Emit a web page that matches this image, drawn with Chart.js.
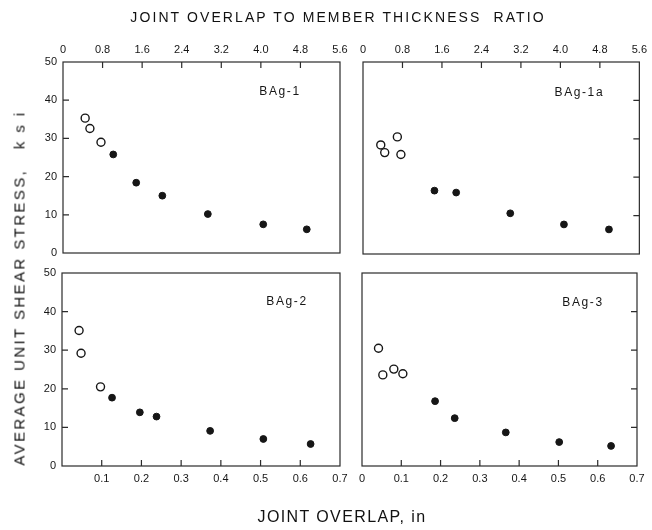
<!DOCTYPE html>
<html>
<head>
<meta charset="utf-8">
<script src="https://cdn.jsdelivr.net/npm/chart.js@4/dist/chart.umd.min.js"></script>
<style>
  html, body { margin: 0; padding: 0; background: #fff; }
  #wrap { position: relative; width: 652px; height: 530px; overflow: hidden; background: #fff; }
  #wrap canvas { position: absolute; left: 0; top: 0; }
  .txt { position: absolute; font-family: "Liberation Sans", Arial, sans-serif; color: #111; white-space: pre; }
  #topTitle { left: 338px; top: 17px; transform: translate(-50%, -50%); font-size: 14px; letter-spacing: 2.1px; }
  #bottomTitle { left: 342px; top: 517px; transform: translate(-50%, -50%); font-size: 16px; letter-spacing: 1.4px; }
  #yTitle { left: 19px; top: 288px; transform: translate(-50%, -50%) rotate(-90deg); font-size: 15px; letter-spacing: 2.4px; }
</style>
</head>
<body>
<div id="wrap">
  <canvas id="c1" width="652" height="530"></canvas>
  <canvas id="c2" width="652" height="530"></canvas>
  <canvas id="c3" width="652" height="530"></canvas>
  <canvas id="c4" width="652" height="530"></canvas>
  <div class="txt" id="topTitle">JOINT OVERLAP TO MEMBER THICKNESS  RATIO</div>
  <div class="txt" id="bottomTitle">JOINT OVERLAP, in</div>
  <div class="txt" id="yTitle">AVERAGE UNIT SHEAR STRESS,   k s i</div>
</div>
<script>
// Axis ticks
const stressTicks = [0, 10, 20, 30, 40, 50];
const stressLabels = ['0', '10', '20', '30', '40', '50'];
const overlapTicks = [0, 0.1, 0.2, 0.3, 0.4, 0.5, 0.6, 0.7];
const overlapLabels = ['0', '0.1', '0.2', '0.3', '0.4', '0.5', '0.6', '0.7'];
const ratioTicks = [0, 0.8, 1.6, 2.4, 3.2, 4.0, 4.8, 5.6];
const ratioLabels = ['0', '0.8', '1.6', '2.4', '3.2', '4.0', '4.8', '5.6'];

// Panel names
const panelNames = ['BAg-1', 'BAg-1a', 'BAg-2', 'BAg-3'];

// BAg-1: overlap (in) and shear stress (ksi); open = first group, filled = second group
const bag1OpenOverlap = [0.056, 0.068, 0.096];
const bag1OpenStress  = [35.3, 32.6, 29.0];
const bag1Overlap     = [0.127, 0.185, 0.251, 0.366, 0.506, 0.616];
const bag1Stress      = [25.8, 18.4, 15.0, 10.2, 7.5, 6.2];

// BAg-1a
const bag1aOpenOverlap = [0.045, 0.055, 0.087, 0.096];
const bag1aOpenStress  = [28.4, 26.4, 30.5, 25.9];
const bag1aOverlap     = [0.181, 0.236, 0.373, 0.509, 0.623];
const bag1aStress      = [16.5, 16.0, 10.6, 7.7, 6.4];

// BAg-2
const bag2OpenOverlap = [0.043, 0.048, 0.097];
const bag2OpenStress  = [35.1, 29.2, 20.5];
const bag2Overlap     = [0.126, 0.196, 0.238, 0.373, 0.507, 0.626];
const bag2Stress      = [17.7, 13.9, 12.8, 9.1, 7.0, 5.7];

// BAg-3
const bag3OpenOverlap = [0.042, 0.053, 0.081, 0.104];
const bag3OpenStress  = [30.5, 23.6, 25.1, 23.9];
const bag3Overlap     = [0.186, 0.236, 0.366, 0.502, 0.634];
const bag3Stress      = [16.8, 12.4, 8.7, 6.2, 5.2];

const INK = '#161616';
const FONT = '"Liberation Sans", Arial, sans-serif';

function pts(xs, ys) { return xs.map((x, i) => ({ x: x, y: ys[i] })); }

function openSet(xs, ys) {
  return { data: pts(xs, ys), pointStyle: 'circle', pointRadius: 4, pointHoverRadius: 4,
           pointBackgroundColor: '#fff', pointBorderColor: INK, pointBorderWidth: 1.4, showLine: false };
}
function solidSet(xs, ys) {
  return { data: pts(xs, ys), pointStyle: 'circle', pointRadius: 3.4, pointHoverRadius: 3.4,
           pointBackgroundColor: INK, pointBorderColor: INK, pointBorderWidth: 1, showLine: false };
}

// Frame, inward tick marks and panel name
const panelDecor = {
  id: 'panelDecor',
  afterDatasetsDraw(chart, args, o) {
    const ctx = chart.ctx, a = chart.chartArea;
    const sx = chart.scales.x, sy = chart.scales.y, st = chart.scales.x2;
    const len = 6;
    ctx.save();
    ctx.strokeStyle = '#2b2b2b';
    ctx.lineWidth = 1.2;
    ctx.strokeRect(a.left, a.top, a.right - a.left, a.bottom - a.top);
    ctx.beginPath();
    const inner = stressTicks.slice(1, -1);
    if (o.left) inner.forEach(v => { const p = sy.getPixelForValue(v); ctx.moveTo(a.left, p); ctx.lineTo(a.left + len, p); });
    if (o.right) inner.forEach(v => { const p = sy.getPixelForValue(v); ctx.moveTo(a.right, p); ctx.lineTo(a.right - len, p); });
    if (o.top) ratioTicks.slice(1, -1).forEach(v => { const p = st.getPixelForValue(v); ctx.moveTo(p, a.top); ctx.lineTo(p, a.top + len); });
    if (o.bottom) overlapTicks.slice(1, -1).forEach(v => { const p = sx.getPixelForValue(v); ctx.moveTo(p, a.bottom); ctx.lineTo(p, a.bottom - len); });
    ctx.stroke();
    ctx.fillStyle = INK;
    ctx.font = '12px ' + FONT;
    ctx.textAlign = 'center';
    ctx.textBaseline = 'middle';
    if ('letterSpacing' in ctx) ctx.letterSpacing = '1.6px';
    ctx.fillText(o.label, a.right - o.labelDx, a.top + o.labelDy);
    ctx.restore();
  }
};

const tickFont = { family: FONT, size: 11 };

function makePanel(id, datasets, cfg) {
  const scales = {
    x: {
      type: 'linear', position: 'bottom', min: 0, max: 0.7,
      display: cfg.showBottom,
      grid: { display: false, drawTicks: false }, border: { display: false },
      afterBuildTicks: s => { s.ticks = overlapTicks.filter(v => cfg.bottomZero || v > 0).map(v => ({ value: v })); },
      afterFit: s => { s.height = cfg.bottomH; },
      ticks: { font: tickFont, color: INK, padding: 6, autoSkip: false, maxRotation: 0,
               callback: v => overlapLabels[overlapTicks.indexOf(Math.round(v * 10) / 10)] }
    },
    x2: {
      type: 'linear', position: 'top', min: 0, max: 5.6,
      display: cfg.showTop,
      grid: { display: false, drawTicks: false }, border: { display: false },
      afterBuildTicks: s => { s.ticks = ratioTicks.map(v => ({ value: v })); },
      afterFit: s => { s.height = cfg.topH; },
      ticks: { font: tickFont, color: INK, padding: 5, autoSkip: false, maxRotation: 0,
               callback: (v, i) => ratioLabels[i] }
    },
    y: {
      type: 'linear', position: 'left', min: 0, max: 50,
      display: cfg.showLeft,
      grid: { display: false, drawTicks: false }, border: { display: false },
      afterBuildTicks: s => { s.ticks = stressTicks.map(v => ({ value: v })); },
      afterFit: s => { s.width = cfg.leftW; },
      ticks: { font: tickFont, color: INK, padding: 6, autoSkip: false,
               callback: (v, i) => stressLabels[i] }
    }
  };
  return new Chart(document.getElementById(id), {
    type: 'scatter',
    data: { datasets: datasets },
    options: {
      responsive: false, animation: false, events: [],
      layout: { padding: cfg.padding },
      plugins: { legend: { display: false }, tooltip: { enabled: false }, panelDecor: cfg.decor },
      scales: scales
    },
    plugins: [panelDecor]
  });
}

// Top-left: BAg-1
makePanel('c1', [openSet(bag1OpenOverlap, bag1OpenStress), solidSet(bag1Overlap, bag1Stress)], {
  showBottom: false, showTop: true, showLeft: true, bottomZero: false,
  topH: 62, leftW: 63, bottomH: 0,
  padding: { left: 0, top: 0, right: 312, bottom: 277 },
  decor: { left: true, top: true, label: panelNames[0], labelDx: 60, labelDy: 30 }
});

// Top-right: BAg-1a
makePanel('c2', [openSet(bag1aOpenOverlap, bag1aOpenStress), solidSet(bag1aOverlap, bag1aStress)], {
  showBottom: false, showTop: true, showLeft: false, bottomZero: false,
  topH: 62, leftW: 0, bottomH: 0,
  padding: { left: 363, top: 0, right: 9, bottom: 276 },
  decor: { right: true, top: true, label: panelNames[1], labelDx: 60, labelDy: 31 }
});

// Bottom-left: BAg-2
makePanel('c3', [openSet(bag2OpenOverlap, bag2OpenStress), solidSet(bag2Overlap, bag2Stress)], {
  showBottom: true, showTop: false, showLeft: true, bottomZero: false,
  topH: 0, leftW: 62, bottomH: 64,
  padding: { left: 0, top: 273, right: 312, bottom: 0 },
  decor: { left: true, bottom: true, label: panelNames[2], labelDx: 53, labelDy: 29 }
});

// Bottom-right: BAg-3
makePanel('c4', [openSet(bag3OpenOverlap, bag3OpenStress), solidSet(bag3Overlap, bag3Stress)], {
  showBottom: true, showTop: false, showLeft: false, bottomZero: true,
  topH: 0, leftW: 0, bottomH: 64,
  padding: { left: 362, top: 273, right: 15, bottom: 0 },
  decor: { right: true, bottom: true, label: panelNames[3], labelDx: 54, labelDy: 30 }
});
</script>
</body>
</html>
